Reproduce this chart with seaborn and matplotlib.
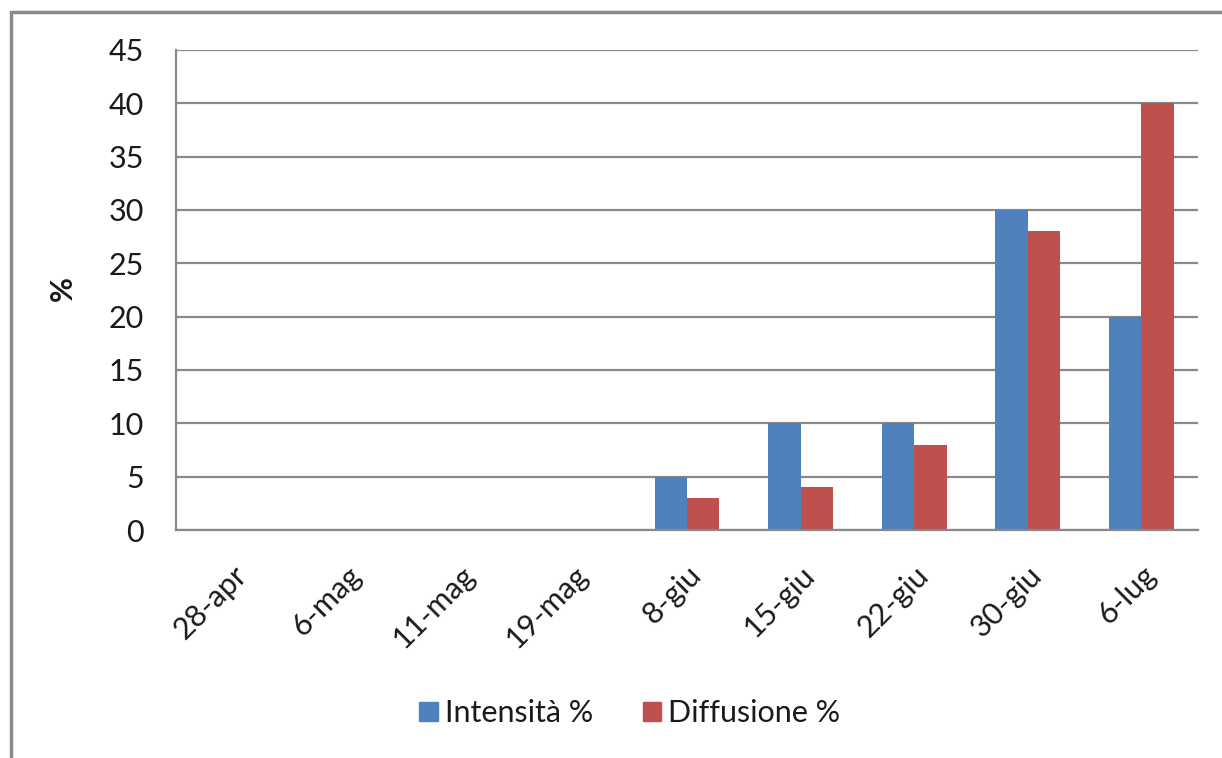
import numpy as np
import pandas as pd
import matplotlib
matplotlib.use("Agg")
import matplotlib.pyplot as plt
import matplotlib.patches as mpatches
import seaborn as sns

# dati
date = ["28-apr", "6-mag", "11-mag", "19-mag", "8-giu", "15-giu", "22-giu", "30-giu", "6-lug"]
intensita = [0, 0, 0, 0, 5, 10, 10, 30, 20]
diffusione = [0, 0, 0, 0, 3, 4, 8, 28, 40]
serie = ["Intensità %", "Diffusione %"]
colori = ["#4F81BD", "#C0504D"]

df = pd.DataFrame({
    "data": date * 2,
    "valore": intensita + diffusione,
    "serie": [serie[0]] * len(date) + [serie[1]] * len(date),
})

sns.set_style("white")
plt.rcParams["font.family"] = ["Lato", "DejaVu Sans"]

fig = plt.figure(figsize=(12.22, 7.58), dpi=100)
ax = fig.add_axes([176 / 1222, 1 - 530 / 758, (1198 - 176) / 1222, (530 - 50) / 758])

sns.barplot(data=df, x="data", y="valore", hue="serie", order=date, hue_order=serie,
            palette=colori, width=0.571, gap=0, saturation=1, linewidth=0, ax=ax)

grigio = "#898989"
fs = 22
ax.set_ylim(0, 45)
ax.set_xlim(-0.5, len(date) - 0.5)
ax.set_yticks(np.arange(0, 46, 5))
ax.yaxis.grid(True, color=grigio, linewidth=1.6)
ax.set_axisbelow(True)
for s in ["top", "right"]:
    ax.spines[s].set_visible(False)
for s in ["left", "bottom"]:
    ax.spines[s].set_color(grigio)
    ax.spines[s].set_linewidth(1.6)

ax.tick_params(axis="y", length=9, width=1.6, color=grigio, labelsize=fs, pad=14, labelcolor="#1a1a1a")
ax.set_xticks(np.arange(len(date)))
ax.set_xticklabels(date, rotation=45, ha="right", rotation_mode="anchor", fontsize=fs, color="#1a1a1a")
ax.tick_params(axis="x", which="major", length=0, pad=22)
ax.set_xticks(np.arange(-0.5, len(date), 1), minor=True)
ax.tick_params(axis="x", which="minor", length=9, width=1.6, color=grigio)
ax.set_xlabel("")
ax.set_ylabel("%", fontsize=fs, fontweight="bold", color="#1a1a1a")
ax.yaxis.set_label_coords((77 - 176) / 1022, (530 - 289) / 480)

ax.get_legend().remove()
handles = [mpatches.Patch(color=c, label=l) for c, l in zip(colori, serie)]
fig.legend(handles=handles, loc="center", bbox_to_anchor=(630 / 1222, 1 - 713 / 758), ncol=2,
           frameon=False, fontsize=fs, handlelength=0.6, handleheight=0.6,
           handletextpad=0.25, columnspacing=1.6, labelcolor="#1a1a1a")

# bordo del grafico (tagliato a destra e in basso)
fig.patches.append(mpatches.Rectangle((11 / 1222, -0.1), 1.2, 1 - 12 / 758 + 0.1,
                                      transform=fig.transFigure, fill=False,
                                      edgecolor=grigio, linewidth=2.5))

fig.savefig("out.png", dpi=100)
